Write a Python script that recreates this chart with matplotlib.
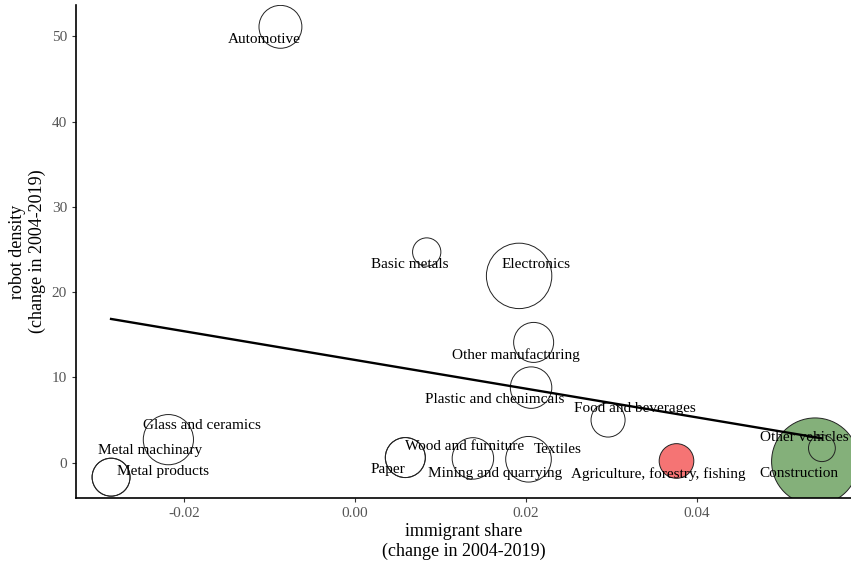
import numpy as np
import matplotlib
matplotlib.use("Agg")
import matplotlib.pyplot as plt

plt.rcParams['font.family'] = ['Liberation Serif', 'DejaVu Serif']

# sectors, bubble position (immigrant share change, robot density change) and size
sectors = ['Construction', 'Agriculture, forestry, fishing', 'Automotive',
           'Basic metals', 'Electronics', 'Other manufacturing',
           'Plastic and chenimcals', 'Food and beverages', 'Other vehicles',
           'Textiles', 'Mining and quarrying', 'Wood and furniture', 'Paper',
           'Glass and ceramics', 'Metal machinary', 'Metal products']
immig = [0.0538, 0.0376, -0.0087, 0.0084, 0.0192, 0.0209, 0.0206, 0.0296,
         0.0546, 0.0203, 0.0138, 0.0059, 0.0059, -0.0218, -0.0285, -0.0285]
robots = [0.15, 0.2, 51.1, 24.7, 21.9, 14.1, 8.8, 5.0, 1.7, 0.4, 0.5, 0.6, 0.6,
          2.7, -1.7, -1.7]
weight = [18.9, 3.0, 4.6, 2.0, 10.7, 4.0, 4.3, 2.9, 1.8, 5.2, 4.3, 4.0, 4.0,
          6.3, 3.6, 3.6]
group = ['construction', 'agriculture'] + ['other'] * 14

# label positions as they sit in the picture
lab_x = [0.0519, 0.0355, -0.0106, 0.0064, 0.0212, 0.0188, 0.0164, 0.0327,
         0.0526, 0.0237, 0.0164, 0.0128, 0.0039, -0.0179, -0.0239, -0.0224]
lab_y = [-1.3, -1.3, 49.6, 23.2, 23.2, 12.6, 7.35, 6.4, 3.0, 1.6, -1.3, 1.9,
         -0.8, 4.4, 1.4, -1.0]

# fitted line end points
fit_x = [-0.0285, 0.0546]
fit_y = [16.85, 2.85]

colors = {'other': 'none', 'construction': '#84b07a', 'agriculture': '#f57474'}

fig = plt.figure(figsize=(8.51, 5.67), dpi=100)
ax = fig.add_axes([0.0893, 0.1217, 0.9107, 0.8695])

w = np.array(weight)
s = w * 100 * (0.72 ** 2) * 4  # area in pt^2 (radius_px^2 = weight*100)
fc = [colors[g] for g in group]
ax.scatter(immig, robots, s=s, facecolors=fc, edgecolors='#222222',
           linewidths=0.7, zorder=2)
ax.plot(fit_x, fit_y, color='black', lw=1.7, zorder=3)

for name, lx, ly in zip(sectors, lab_x, lab_y):
    ax.text(lx, ly, name, ha='center', va='center', fontsize=11, zorder=4)

ax.set_xlim(-0.0326, 0.0580)
ax.set_ylim(-4.14, 53.66)
ax.set_xticks([-0.02, 0.0, 0.02, 0.04])
ax.set_xticklabels(['-0.02', '0.00', '0.02', '0.04'])
ax.set_yticks([0, 10, 20, 30, 40, 50])
ax.tick_params(colors='#333333', labelcolor='#555555', labelsize=11,
               length=3, width=0.8)
for side in ['top', 'right']:
    ax.spines[side].set_visible(False)
for side in ['left', 'bottom']:
    ax.spines[side].set_linewidth(1.2)

ax.set_xlabel('immigrant share\n(change in 2004-2019)', fontsize=13,
              linespacing=1.25, labelpad=2)
ax.set_ylabel('robot density\n(change in 2004-2019)', fontsize=13,
              linespacing=1.2)

fig.savefig('out.png', dpi=100)
